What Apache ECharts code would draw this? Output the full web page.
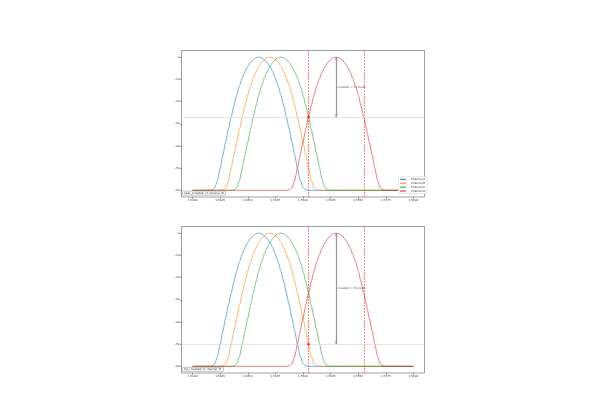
<!DOCTYPE html>
<html><head><meta charset="utf-8">
<script src="https://cdn.jsdelivr.net/npm/echarts@6/dist/echarts.min.js"></script>
<style>html,body{margin:0;padding:0;background:#fff}#c{width:600px;height:420px}</style>
</head><body><div id="c"></div>
<script>
const wavelength = [1.54000,1.54025,1.54050,1.54075,1.54100,1.54125,1.54150,1.54175,1.54200,1.54225,1.54250,1.54275,1.54300,1.54325,1.54350,1.54375,1.54400,1.54425,1.54450,1.54475,1.54500,1.54525,1.54550,1.54575,1.54600,1.54625,1.54650,1.54675,1.54700,1.54725,1.54750,1.54775,1.54800,1.54825,1.54850,1.54875,1.54900,1.54925,1.54950,1.54975,1.55000,1.55025,1.55050,1.55075,1.55100,1.55125,1.55150,1.55175,1.55200,1.55225,1.55250,1.55275,1.55300,1.55325,1.55350,1.55375,1.55400,1.55425,1.55450,1.55475,1.55500,1.55525,1.55550,1.55575,1.55600,1.55625,1.55650,1.55675,1.55700,1.55725,1.55750,1.55775,1.55800,1.55825,1.55850,1.55875,1.55900,1.55925,1.55950,1.55975,1.56000];

const channelA = [-60,-60,-60,-60,-60,-60,-60,
 -59.8,-58.9,-55.6,-50.0,-44.0,-38.2,-32.5,-27.0,-21.8,-17.0,-12.9,-9.43,-6.55,-4.19,-2.36,-1.05,-0.26,0,-0.26,-1.05,-2.36,-4.19,-6.55,-9.43,-12.9,-17.0,-21.8,-27.0,-32.5,-38.2,-44.0,-50.0,-55.6,-58.9,-59.8,
 -60,-60,-60,-60,-60,-60,-60,-60,-60,-60,
 -60,-60,-60,-60,-60,-60,-60,-60,-60,-60,
 -60,-60,-60,-60,-60,-60,-60,-60,-60,-60,
 -60,-60,-60,-60,-60,-60,-60,-60,-60];

const channelB = [-60,-60,-60,-60,-60,-60,-60,-60,-60,-60,-60,
 -59.8,-58.9,-55.6,-50.0,-44.0,-38.2,-32.5,-27.0,-21.8,-17.0,-12.9,-9.43,-6.55,-4.19,-2.36,-1.05,-0.26,0,-0.26,-1.05,-2.36,-4.19,-6.55,-9.43,-12.9,-17.0,-21.8,-27.0,-32.5,-38.2,-44.0,-50.0,-55.6,-58.9,-59.8,
 -60,-60,-60,-60,-60,-60,-60,-60,-60,-60,
 -60,-60,-60,-60,-60,-60,-60,-60,-60,-60,
 -60,-60,-60,-60,-60,-60,-60,-60,-60,-60,
 -60,-60,-60,-60,-60];

const channelC = [-60,-60,-60,-60,-60,-60,-60,-60,-60,-60,-60,-60,-60,-60,-60,
 -59.8,-58.9,-55.6,-50.0,-44.0,-38.2,-32.5,-27.0,-21.8,-17.0,-12.9,-9.43,-6.55,-4.19,-2.36,-1.05,-0.26,0,-0.26,-1.05,-2.36,-4.19,-6.55,-9.43,-12.9,-17.0,-21.8,-27.0,-32.5,-38.2,-44.0,-50.0,-55.6,-58.9,-59.8,
 -60,-60,-60,-60,-60,-60,-60,-60,-60,-60,
 -60,-60,-60,-60,-60,-60,-60,-60,-60,-60,
 -60,-60,-60,-60,-60,-60,-60,-60,-60,-60,
 -60];

const channelD = [-60,-60,-60,-60,-60,-60,-60,-60,-60,-60,
 -60,-60,-60,-60,-60,-60,-60,-60,-60,-60,
 -60,-60,-60,-60,-60,-60,-60,-60,-60,-60,
 -60,-60,-60,-60,-60,
 -59.8,-58.9,-55.6,-50.0,-44.0,-38.2,-32.5,-27.0,-21.8,-17.0,-12.9,-9.43,-6.55,-4.19,-2.36,-1.05,-0.26,0,-0.26,-1.05,-2.36,-4.19,-6.55,-9.43,-12.9,-17.0,-21.8,-27.0,-32.5,-38.2,-44.0,-50.0,-55.6,-58.9,-59.8,
 -60,-60,-60,-60,-60,-60,-60,-60,-60,-60,-60];

const channelNames = ['Channel A','Channel B','Channel C','Channel D'];
const channelPeakD = 1.553;
const bandEdgesD = [1.5505, 1.5555];
const crosstalkLevels = [-27.04, -50.02];
const crosstalkTexts = ['crosstalk = 27.04dB', 'crosstalk = 50.02dB'];
const panelTitles = ["near_crosstalk of channel 'D'", "far_crosstalk of channel 'D'"];

const xTicks = [1.5400,1.5425,1.5450,1.5475,1.5500,1.5525,1.5550,1.5575,1.5600];
const xTickLabels = ['1.5400','1.5425','1.5450','1.5475','1.5500','1.5525','1.5550','1.5575','1.5600'];
const yTicks = [0,-10,-20,-30,-40,-50,-60];
const yTickLabels = ['0','\u221210','\u221220','\u221230','\u221240','\u221250','\u221260'];

const colors = ['#1f77b4','#ff7f0e','#2ca02c','#d62728'];
const allChannels = [channelA, channelB, channelC, channelD];
const FONT = 'DejaVu Sans';

function lookup(ticks, labels, v){ const i = ticks.findIndex(t => Math.abs(t - v) < 1e-9); return i >= 0 ? labels[i] : ''; }

const grids = [], xAxes = [], yAxes = [], series = [], titles = [];
const tops = [50.5, 226.5];
const titleTops = [190.8, 367];
for (let g = 0; g < 2; g++) {
  grids.push({left: 181.5, top: tops[g], width: 243, height: 146.5, show: true, borderColor: '#777', borderWidth: 0.7, backgroundColor: 'transparent'});
  xAxes.push({type: 'value', gridIndex: g, min: 1.539, max: 1.561, splitLine: {show: false}, axisLine: {show: false, onZero: false},
    axisTick: {show: true, length: 1.5, customValues: xTicks, lineStyle: {color: '#444', width: 0.6}},
    axisLabel: {customValues: xTicks, formatter: v => lookup(xTicks, xTickLabels, v), fontSize: 2.8, color: '#333', margin: 2, fontFamily: FONT}});
  yAxes.push({type: 'value', gridIndex: g, min: -63, max: 3, splitLine: {show: false}, axisLine: {show: false, onZero: false},
    axisTick: {show: true, length: 1.5, customValues: yTicks, lineStyle: {color: '#444', width: 0.6}},
    axisLabel: {customValues: yTicks, formatter: v => lookup(yTicks, yTickLabels, v), fontSize: 2.8, color: '#333', margin: 2, fontFamily: FONT}});
  for (let c = 0; c < 4; c++) {
    const s = {name: channelNames[c], type: 'line', xAxisIndex: g, yAxisIndex: g, showSymbol: false, symbol: 'none',
      smooth: 0.2, smoothMonotone: 'x', animation: false, silent: true,
      data: wavelength.map((x, i) => [x, allChannels[c][i]]),
      lineStyle: {color: colors[c], width: 0.8, opacity: 0.75}, itemStyle: {color: colors[c]}, z: 3};
    if (c === 3) {
      s.markLine = {silent: true, symbol: 'none', animation: false, precision: 6, label: {show: false},
        data: [
          {xAxis: bandEdgesD[0], lineStyle: {color: '#ff0000', type: [2, 1], width: 0.9, opacity: 0.55}},
          {xAxis: bandEdgesD[1], lineStyle: {color: '#ff0000', type: [2, 1], width: 0.9, opacity: 0.55}},
          {yAxis: crosstalkLevels[g], lineStyle: {color: '#d8d8d8', type: 'solid', width: 0.7}},
          [{coord: [channelPeakD, 0], symbol: 'arrow', symbolSize: [2.5, 3], lineStyle: {color: '#999', type: 'solid', width: 1.3}},
           {coord: [channelPeakD, crosstalkLevels[g]], symbol: 'arrow', symbolSize: [2.5, 3]}]
        ]};
    }
    series.push(s);
  }
  series.push({type: 'scatter', xAxisIndex: g, yAxisIndex: g, symbolSize: 0, silent: true, animation: false,
    data: [[channelPeakD, crosstalkLevels[g] / 2]],
    label: {show: true, position: 'right', distance: 1, formatter: crosstalkTexts[g], fontSize: 2.8, color: '#333', fontFamily: FONT}, z: 5});
  series.push({type: 'scatter', xAxisIndex: g, yAxisIndex: g, symbol: 'circle', symbolSize: 2.6, silent: true, animation: false,
    data: [[bandEdgesD[0], crosstalkLevels[g]]], itemStyle: {color: '#ff0000'}, z: 6});
  titles.push({text: panelTitles[g], left: 182.5, top: titleTops[g], padding: [0.8, 1.5],
    textStyle: {fontSize: 2.8, fontWeight: 'normal', color: '#333', fontFamily: FONT},
    borderColor: '#999', borderWidth: 0.6, backgroundColor: '#fff', borderRadius: 0.5});
}

const chart = echarts.init(document.getElementById('c'), null, {renderer: 'canvas'});
chart.setOption({
  backgroundColor: '#fff',
  animation: false,
  title: titles,
  legend: {data: channelNames, orient: 'vertical', left: 398.5, top: 176.8, padding: [1, 1.5], itemGap: 0.9,
    itemWidth: 6, itemHeight: 1, icon: 'rect', textStyle: {fontSize: 2.8, color: '#333', fontFamily: FONT},
    borderColor: '#ccc', borderWidth: 0.5, borderRadius: 0.8, backgroundColor: '#fff', selectedMode: false},
  grid: grids, xAxis: xAxes, yAxis: yAxes, series: series
});
</script></body></html>
